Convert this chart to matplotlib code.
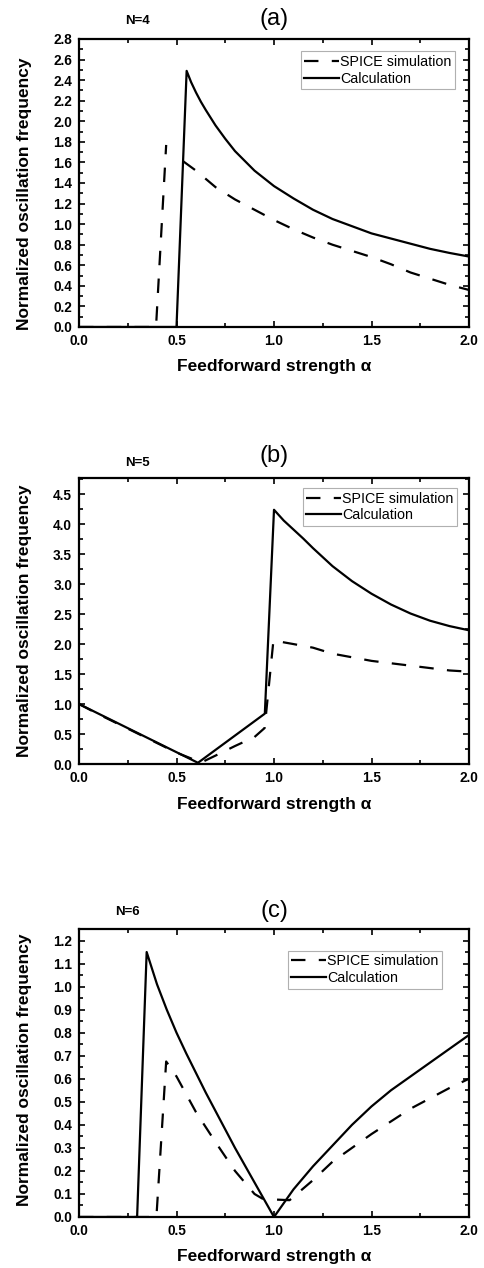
import matplotlib
matplotlib.use('Agg')
import matplotlib.pyplot as plt
import numpy as np
from matplotlib.ticker import MultipleLocator, FormatStrFormatter

plt.rcParams['font.family'] = ['Liberation Sans', 'DejaVu Sans']

nan = np.nan

# ---------------- data ----------------
# Panel (a) N=4
a_sim_x = [0.0, 0.395, 0.447, nan, 0.535, 0.6, 0.7, 0.8, 0.9, 1.0, 1.1, 1.2, 1.3, 1.4, 1.5, 1.6, 1.7, 1.8, 1.9, 2.0]
a_sim_y = [0.0, 0.0, 1.77, nan, 1.61, 1.52, 1.36, 1.24, 1.14, 1.04, 0.95, 0.87, 0.80, 0.74, 0.68, 0.61, 0.53, 0.47, 0.41, 0.36]
a_calc_x = [0.0, 0.50, 0.552, 0.575, 0.6, 0.625, 0.65, 0.7, 0.75, 0.8, 0.9, 1.0, 1.1, 1.2, 1.3, 1.4, 1.5, 1.6, 1.7, 1.8, 1.9, 2.0]
a_calc_y = [0.0, 0.0, 2.49, 2.38, 2.28, 2.19, 2.11, 1.96, 1.83, 1.71, 1.52, 1.37, 1.25, 1.14, 1.05, 0.98, 0.91, 0.86, 0.81, 0.76, 0.72, 0.685]

# Panel (b) N=5
b_sim_x = [0.0, 0.1, 0.2, 0.3, 0.4, 0.5, 0.6, 0.63, 0.7, 0.8, 0.9, 0.952, 0.997, 1.1, 1.2, 1.3, 1.4, 1.5, 1.6, 1.7, 1.8, 1.9, 2.0]
b_sim_y = [1.0, 0.83, 0.67, 0.51, 0.35, 0.19, 0.06, 0.03, 0.14, 0.30, 0.45, 0.60, 2.06, 2.00, 1.94, 1.84, 1.78, 1.72, 1.68, 1.64, 1.60, 1.56, 1.54]
b_calc_x = [0.0, 0.61, 0.953, 1.0, 1.025, 1.05, 1.1, 1.15, 1.2, 1.3, 1.4, 1.5, 1.6, 1.7, 1.8, 1.9, 2.0]
b_calc_y = [1.0, 0.02, 0.84, 4.24, 4.15, 4.06, 3.91, 3.76, 3.60, 3.30, 3.05, 2.84, 2.66, 2.51, 2.39, 2.30, 2.23]

# Panel (c) N=6
c_sim_x = [0.0, 0.397, 0.447, 0.5, 0.6, 0.7, 0.8, 0.9, 0.94, 1.0, 1.08, 1.2, 1.3, 1.4, 1.5, 1.6, 1.7, 1.8, 1.9, 2.0]
c_sim_y = [0.0, 0.0, 0.675, 0.61, 0.455, 0.325, 0.20, 0.10, 0.08, 0.076, 0.073, 0.16, 0.24, 0.30, 0.36, 0.415, 0.47, 0.515, 0.56, 0.60]
c_calc_x = [0.0, 0.298, 0.347, 0.40, 0.45, 0.50, 0.55, 0.60, 0.65, 0.70, 0.75, 0.80, 0.85, 0.90, 0.95, 1.0,
            1.1, 1.2, 1.3, 1.4, 1.5, 1.6, 1.7, 1.8, 1.9, 2.0]
c_calc_y = [0.0, 0.0, 1.15, 1.01, 0.90, 0.80, 0.71, 0.625, 0.54, 0.46, 0.38, 0.30, 0.225, 0.15, 0.075, 0.0,
            0.12, 0.22, 0.31, 0.40, 0.48, 0.55, 0.61, 0.67, 0.73, 0.79]

panel_titles = ['(a)', '(b)', '(c)']
panel_n = ['N=4', 'N=5', 'N=6']
legend_labels = ['SPICE simulation', 'Calculation']
xlabel = 'Feedforward strength α'
ylabel = 'Normalized oscillation frequency'

# ---------------- layout ----------------
W, H = 484, 1268
fig = plt.figure(figsize=(W / 100, H / 100), dpi=100)

panels = [
    dict(top=39, bot=327, ymax=2.8, ymaj=0.2, ymin=0.1, leg=(0.964, 0.958), ty=19.5, nxy=(138, 21), yl=0.462,
         sim=(a_sim_x, a_sim_y), calc=(a_calc_x, a_calc_y)),
    dict(top=478, bot=764, ymax=4.77, ymaj=0.5, ymin=0.25, leg=(0.969, 0.965), ty=456, nxy=(137, 463), yl=0.5,
         sim=(b_sim_x, b_sim_y), calc=(b_calc_x, b_calc_y)),
    dict(top=929, bot=1217, ymax=1.25, ymaj=0.1, ymin=0.05, leg=(0.931, 0.924), ty=911, nxy=(127, 912), yl=0.51,
         sim=(c_sim_x, c_sim_y), calc=(c_calc_x, c_calc_y)),
]

left_px, right_px = 79, 469
for i, p in enumerate(panels):
    ax = fig.add_axes([left_px / W, (H - p['bot']) / H, (right_px - left_px) / W, (p['bot'] - p['top']) / H])
    sx, sy = p['sim']
    cx, cy = p['calc']
    ax.plot(sx, sy, color='black', lw=1.6, dashes=(6.5, 6.0), label=legend_labels[0])
    ax.plot(cx, cy, color='black', lw=1.6, label=legend_labels[1])
    ax.set_xlim(0, 2.0)
    ax.set_ylim(0, p['ymax'])
    ax.xaxis.set_major_locator(MultipleLocator(0.5))
    ax.xaxis.set_minor_locator(MultipleLocator(0.25))
    ax.yaxis.set_major_locator(MultipleLocator(p['ymaj']))
    ax.yaxis.set_minor_locator(MultipleLocator(p['ymin']))
    ax.xaxis.set_major_formatter(FormatStrFormatter('%.1f'))
    ax.yaxis.set_major_formatter(FormatStrFormatter('%.1f'))
    ax.tick_params(which='both', direction='in', top=True, right=True, width=1.2)
    ax.tick_params(which='major', length=4.5, labelsize=9.8, pad=5)
    ax.tick_params(which='minor', length=3)
    for lab in ax.get_xticklabels() + ax.get_yticklabels():
        lab.set_fontweight('bold')
    for s in ax.spines.values():
        s.set_linewidth(1.6)
    ax.set_xlabel(xlabel, fontsize=12.5, fontweight='bold')
    ax.xaxis.set_label_coords(0.5, -40 / (p['bot'] - p['top']))
    ax.xaxis.label.set_va('center')
    ax.set_ylabel(ylabel, fontsize=12.5, fontweight='bold')
    ax.yaxis.set_label_coords((25 - left_px) / (right_px - left_px), p['yl'])
    ax.yaxis.label.set_va('center')
    leg = ax.legend(loc='upper right', bbox_to_anchor=p['leg'], fontsize=10.3, frameon=True,
                    fancybox=False, edgecolor='#b0b0b0', framealpha=1, handlelength=2.4,
                    handletextpad=0.1, borderpad=0.25, labelspacing=0.2, borderaxespad=0)
    leg.get_frame().set_linewidth(0.8)
    fig.text(274 / W, 1 - p['ty'] / H, panel_titles[i], fontsize=17, ha='center', va='center')
    fig.text(p['nxy'][0] / W, 1 - p['nxy'][1] / H, panel_n[i], fontsize=9.5, fontweight='bold',
             ha='center', va='center')

fig.savefig('out.png', dpi=100)
